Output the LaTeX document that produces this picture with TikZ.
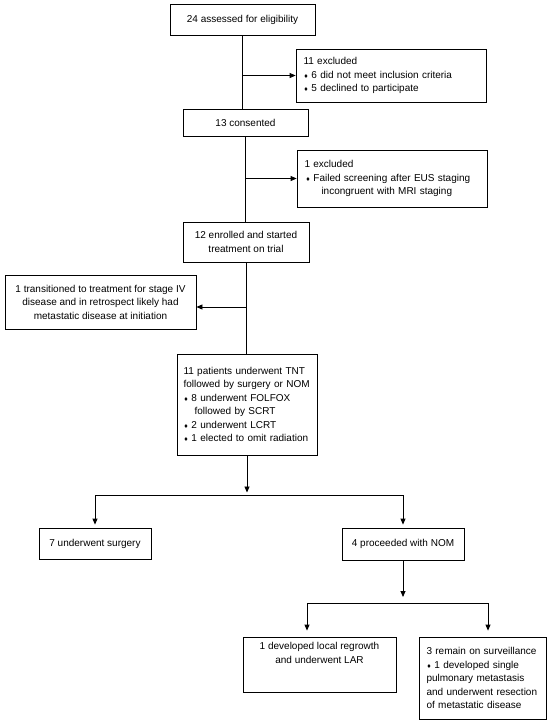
\documentclass[tikz,border=0pt]{standalone}
\usepackage{fontspec}
\setmainfont{Liberation Sans}
\newfontfamily\symfont{DejaVu Sans}
\usetikzlibrary{arrows.meta,calc}
\newcommand{\dia}{{\symfont\fontsize{5.5}{5}\selectfont ♦}\hspace{3pt}}
\begin{document}
\begin{tikzpicture}[x=1pt,y=-1pt,
  box/.style={draw, line width=0.8pt, inner xsep=7.5pt, inner ysep=3pt, font=\fontsize{10}{13.5}\selectfont},
  ln/.style={line width=0.8pt},
  arr/.style={line width=0.8pt, -{Triangle[length=6pt,width=5pt]}}]
\useasboundingbox (0,0) rectangle (550,724);
\node[box, minimum width=145pt, minimum height=31pt] (B1) at (242.5,19.5) {24 assessed for eligibility};
\node[box, minimum width=190pt, minimum height=53pt, text width=175pt, align=left] (B2) at (391,75.5)
  {11 excluded\\\dia 6 did not meet inclusion criteria\\\dia 5 declined to participate};
\node[box, minimum width=125pt, minimum height=27pt] (B3) at (245.5,122.5) {13 consented};
\node[box, minimum width=190pt, minimum height=57pt, text width=175pt, align=left] (B4) at (392,178.5)
  {1 excluded\\\hspace*{1pt}\dia Failed screening after EUS staging\\\hspace*{17pt}incongruent with MRI staging};
\node[box, minimum width=126pt, minimum height=40pt, align=center] (B5) at (246,242) {12 enrolled and started\\treatment on trial};
\node[box, minimum width=191pt, minimum height=54pt, align=center] (B6) at (100.5,302)
  {1 transitioned to treatment for stage IV\\disease and in retrospect likely had\\metastatic disease at initiation};
\node[box, minimum width=140pt, minimum height=101pt, inner xsep=6.5pt, text width=127pt, align=left] (B7) at (247,404.5)
  {11 patients underwent TNT\\followed by surgery or NOM\\\dia 8 underwent FOLFOX\\\hspace*{11pt}followed by SCRT\\\dia 2 underwent LCRT\\\dia 1 elected to omit radiation};
\node[box, minimum width=112pt, minimum height=31pt] (B8) at (95,543.5) {7 underwent surgery};
\node[box, minimum width=122pt, minimum height=32pt] (B9) at (403,544) {4 proceeded with NOM};
\node[box, minimum width=153pt, minimum height=55pt, align=center] (B10) at (319.5,664.5)
  {1 developed local regrowth\\and underwent LAR\\\mbox{}\\[-4pt]\mbox{}};
\node[box, minimum width=127pt, minimum height=82pt, text width=112pt, align=left] (B11) at (482.5,678)
  {3 remain on surveillance\\\dia 1 developed single\\pulmonary metastasis\\and underwent resection\\of metastatic disease};
% connectors
\draw[ln] (B1.south) -- (B1.south |- B3.north);
\draw[arr] (B1.south |- B2.west) -- (B2.west);
\draw[ln] (B3.south) -- (B3.south |- B5.north);
\draw[arr] (B3.south |- B4.west) -- (B4.west);
\draw[ln] (B5.south) -- (B5.south |- B7.north);
\coordinate (b6in) at ($(B6.east)+(0,5)$);
\draw[arr] (B5.south |- b6in) -- (b6in);
\coordinate (s1) at (247,495);
\draw[arr, shorten >=2.5pt] (B7.south) -- (B7.south |- s1);
\draw[arr, shorten >=3pt] (B7.south |- s1) -| (B8.north);
\draw[arr, shorten >=3pt] (B7.south |- s1) -| (B9.north);
\coordinate (s2) at (403,603);
\draw[arr, shorten >=6pt] (B9.south) -- (B9.south |- s2);
\draw[arr, shorten >=6pt] (B9.south |- s2) -| ([xshift=-12.5pt]B10.north);
\draw[arr, shorten >=6pt] (B9.south |- s2) -| ([xshift=5.5pt]B11.north);
\end{tikzpicture}
\end{document}
